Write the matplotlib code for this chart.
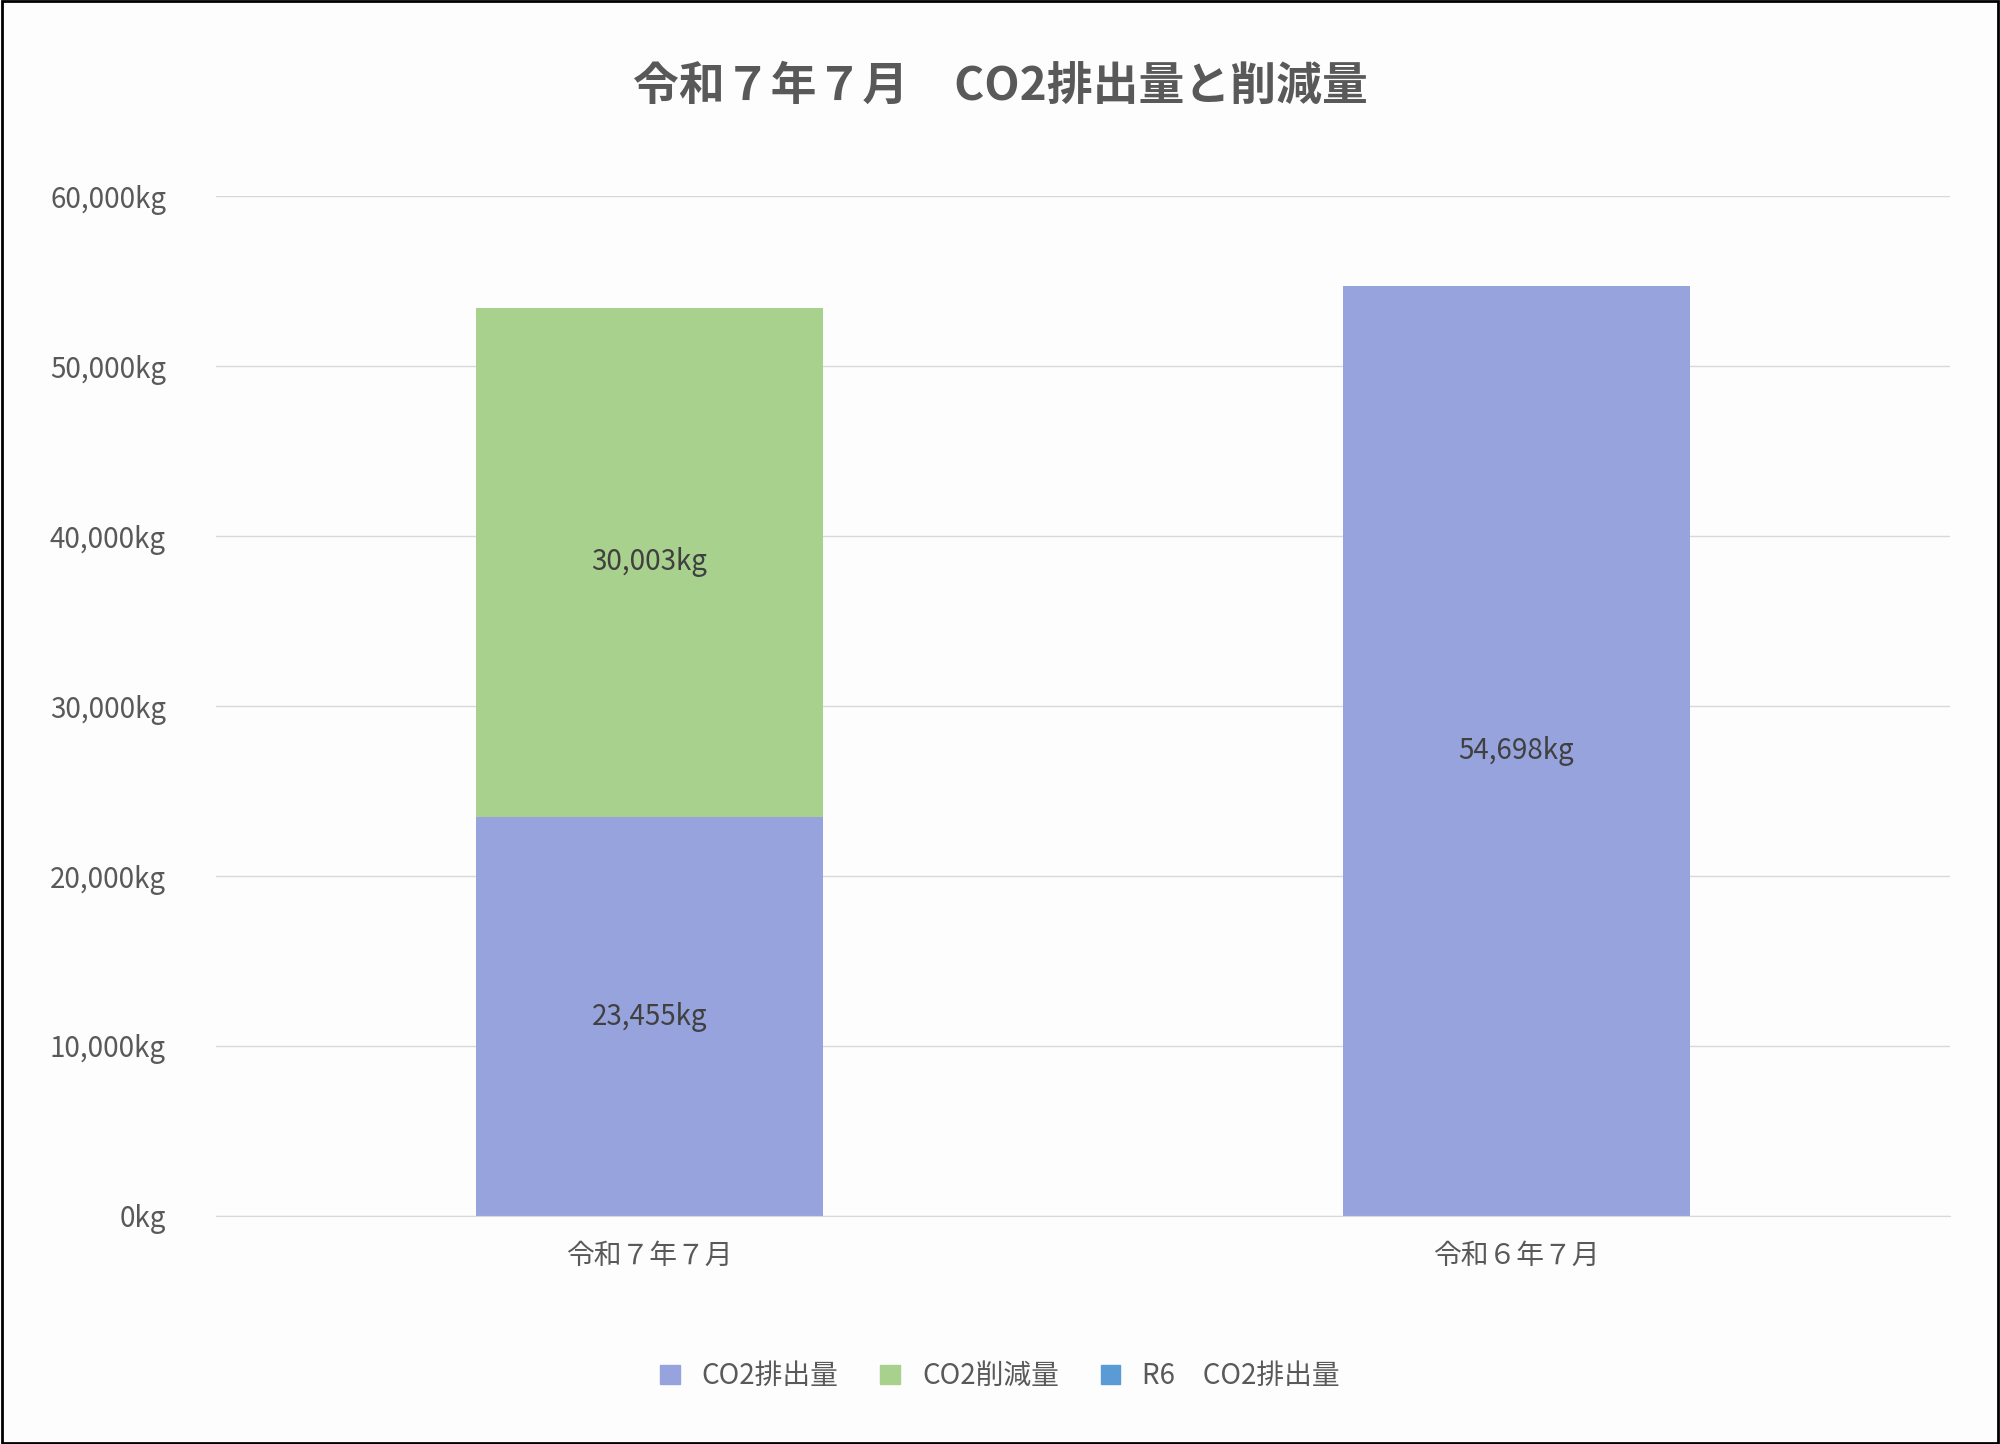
import matplotlib
matplotlib.use("Agg")
import matplotlib.pyplot as plt
from matplotlib.ticker import FuncFormatter
from matplotlib.patches import Patch

plt.rcParams["font.family"] = "Noto Sans CJK JP"

categories = ["令和７年７月", "令和６年７月"]
emission = [23455, 0]
reduction = [30003, 0]
r6_emission = [0, 54698]

c_em = "#97a3dd"
c_red = "#a9d18e"
c_r6 = "#5b9bd5"

fig = plt.figure(figsize=(20, 14.44), dpi=100, facecolor="#fdfdfd")
ax = fig.add_axes([0.108, 0.158, 0.867, 0.706], facecolor="#fdfdfd")
x = range(len(categories))
w = 0.4
ax.bar(x, emission, w, color=c_em)
ax.bar(x, reduction, w, bottom=emission, color=c_red)
ax.bar(x, r6_emission, w, bottom=[e + r for e, r in zip(emission, reduction)], color=c_em)

lab = dict(ha="center", va="center", fontsize=20, color="#404040")
ax.text(0, emission[0] / 2, f"{emission[0]:,}kg", **lab)
ax.text(0, emission[0] + reduction[0] / 2, f"{reduction[0]:,}kg", **lab)
ax.text(1, r6_emission[1] / 2, f"{r6_emission[1]:,}kg", **lab)

ax.set_xlim(-0.5, 1.5)
ax.set_ylim(0, 60000)
ax.set_yticks(range(0, 60001, 10000))
ax.yaxis.set_major_formatter(FuncFormatter(lambda v, p: f"{int(v):,}kg"))
ax.set_xticks(list(x))
ax.set_xticklabels(categories)
ax.tick_params(length=0, labelsize=20, labelcolor="#595959")
ax.tick_params(axis="x", pad=18)
ax.tick_params(axis="y", pad=36)
ax.grid(axis="y", color="#d9d9d9", linewidth=1)
ax.set_axisbelow(True)
for s in ["top", "right", "left"]:
    ax.spines[s].set_visible(False)
ax.spines["bottom"].set_color("#d9d9d9")

fig.text(0.5, 0.94, "令和７年７月　CO2排出量と削減量", ha="center", va="center",
         fontsize=33, fontweight="bold", color="#595959")

handles = [Patch(color=c_em), Patch(color=c_red), Patch(color=c_r6)]
fig.legend(handles, ["CO2排出量", "CO2削減量", "R6　CO2排出量"], loc="center",
           bbox_to_anchor=(0.5, 0.047), ncol=3, frameon=False, fontsize=20,
           labelcolor="#595959", handlelength=0.7, handleheight=0.7, columnspacing=1.5)

border = plt.Rectangle((0.001, 0.001), 0.998, 0.998, transform=fig.transFigure,
                       fill=False, edgecolor="black", linewidth=2)
fig.patches.append(border)
fig.savefig("out.png", dpi=100, facecolor=fig.get_facecolor())
